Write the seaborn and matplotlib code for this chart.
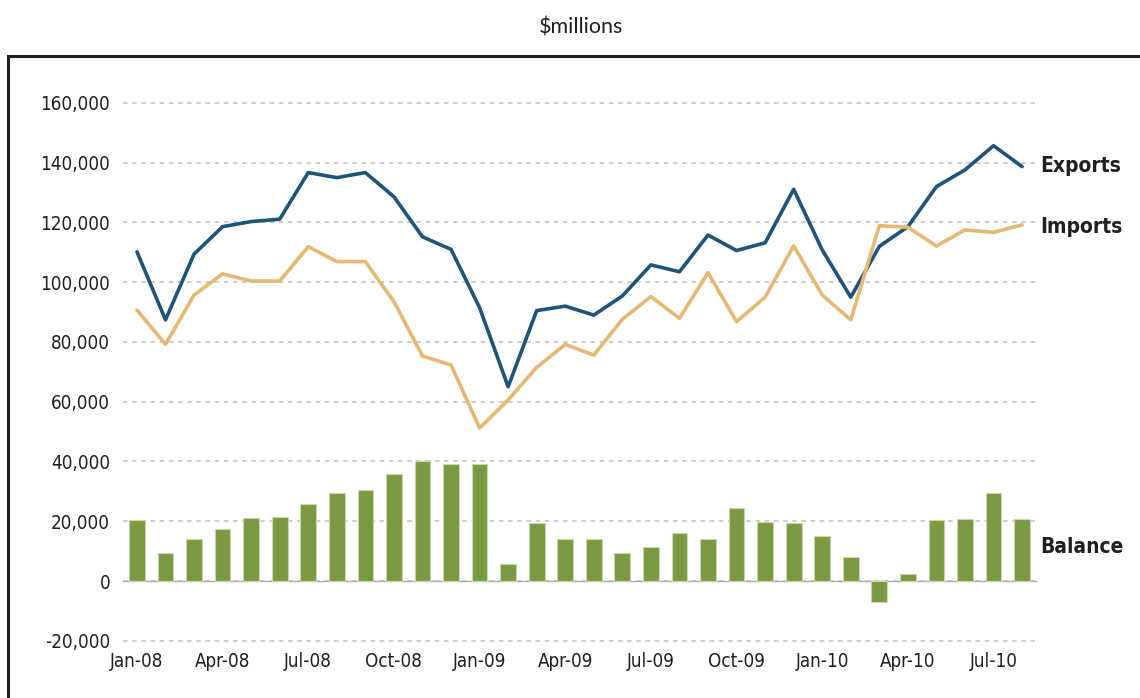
import pandas as pd
import numpy as np
import matplotlib.pyplot as plt
import seaborn as sns
from matplotlib.ticker import FixedLocator

# 월별 데이터 ($millions), Jan-08 ~ Aug-10
months = ["Jan-08", "Feb-08", "Mar-08", "Apr-08", "May-08", "Jun-08", "Jul-08", "Aug-08",
          "Sep-08", "Oct-08", "Nov-08", "Dec-08", "Jan-09", "Feb-09", "Mar-09", "Apr-09",
          "May-09", "Jun-09", "Jul-09", "Aug-09", "Sep-09", "Oct-09", "Nov-09", "Dec-09",
          "Jan-10", "Feb-10", "Mar-10", "Apr-10", "May-10", "Jun-10", "Jul-10", "Aug-10"]

exports = [110200, 87400, 109400, 118600, 120300, 121100, 136700, 135000,
           136700, 128600, 115200, 111000, 91500, 65000, 90500, 92000,
           89000, 95400, 105800, 103500, 115800, 110600, 113200, 131100,
           110800, 95000, 112000, 118600, 132000, 137600, 145700, 138700]

imports = [90700, 79200, 95700, 102800, 100400, 100400, 111900, 106900,
           106900, 93500, 75300, 72300, 51200, 60600, 71500, 79200,
           75600, 87600, 95200, 87900, 103200, 86800, 95000, 112200,
           95700, 87400, 118900, 118400, 112100, 117500, 116700, 119200]

balance = [20400, 9300, 13900, 17400, 21000, 21400, 25800, 29300,
           30500, 35800, 40300, 39200, 39200, 5700, 19300, 13900,
           13900, 9300, 11500, 16200, 13900, 24600, 19800, 19300,
           15100, 8200, -7100, 2200, 20400, 20900, 29300, 20900]

yticks = [-20000, 0, 20000, 40000, 60000, 80000, 100000, 120000, 140000, 160000]
xlabel_idx = [0, 3, 6, 9, 12, 15, 18, 21, 24, 27, 30]

df = pd.DataFrame({"month": months, "idx": np.arange(len(months)),
                   "Exports": exports, "Imports": imports, "Balance": balance})

########################################################################################################################
sns.set_style("white")
plt.rcParams['font.family'] = ['DejaVu Sans']
plt.rcParams['font.stretch'] = 'condensed'

fig = plt.figure(figsize=(11.4, 6.98), dpi=100)
ax = fig.add_axes([0.1076, 0.0713, 0.8015, 0.8026])

sns.barplot(data=df, x="month", y="Balance", order=months, color="#7a9a42", saturation=1,
            width=0.55, edgecolor="#c9d6ae", linewidth=0.8, ax=ax, zorder=3)
sns.lineplot(data=df, x="idx", y="Exports", color="#1d5479", lw=2.6, ax=ax, zorder=4)
sns.lineplot(data=df, x="idx", y="Imports", color="#e5b874", lw=2.6, ax=ax, zorder=4)

ax.set_xlim(-0.5, len(months) - 0.5)
ax.set_ylim(-22500, 165000)
ax.set_xlabel("")
ax.set_ylabel("")

# 눈금선
ax.set_axisbelow(True)
ax.set_yticks(yticks, [f"{v:,}" for v in yticks])
ax.grid(axis='y', ls=(0, (3, 3)), color="#c8bdbd", lw=1.1)
ax.grid(axis='x', visible=False)
ax.tick_params(axis='y', length=0, pad=9, labelsize=13.5, labelcolor="#231f20")

for s in ["top", "right", "left"]:
    ax.spines[s].set_visible(False)
ax.spines["bottom"].set_position(("data", 0))
ax.spines["bottom"].set_color("#b3aaa3")
ax.spines["bottom"].set_linewidth(1.0)
ax.spines["bottom"].set_zorder(2)

ax.set_xticks([])
ax.xaxis.set_minor_locator(FixedLocator(np.arange(-0.5, len(months), 3)))
ax.tick_params(axis='x', which='minor', direction='out', length=4, width=1, color="#b3aaa3")

sec = ax.secondary_xaxis('bottom')
sec.set_xticks(xlabel_idx, [months[i] for i in xlabel_idx])
sec.spines['bottom'].set_visible(False)
sec.tick_params(length=0, pad=3, labelsize=13.5, labelcolor="#231f20")

# 라벨
for name, yv in [("Exports", 139000), ("Imports", 118500), ("Balance", 11500)]:
    ax.text(31.65, yv, name, fontsize=15, fontweight='bold', color="#231f20",
            va='center', ha='left', clip_on=False)

fig.text(0.51, 0.96, "$millions", ha='center', va='center', fontsize=15.5,
         family=['Lato', 'DejaVu Sans'], fontstretch='normal', color="#231f20")

frame = plt.Rectangle((8 / 1140, -0.2), 1.2, 1.2 - 56 / 698, transform=fig.transFigure,
                      fill=False, lw=2.2, edgecolor="#231f20", clip_on=False)
fig.patches.append(frame)

plt.savefig("out.png", dpi=100)
